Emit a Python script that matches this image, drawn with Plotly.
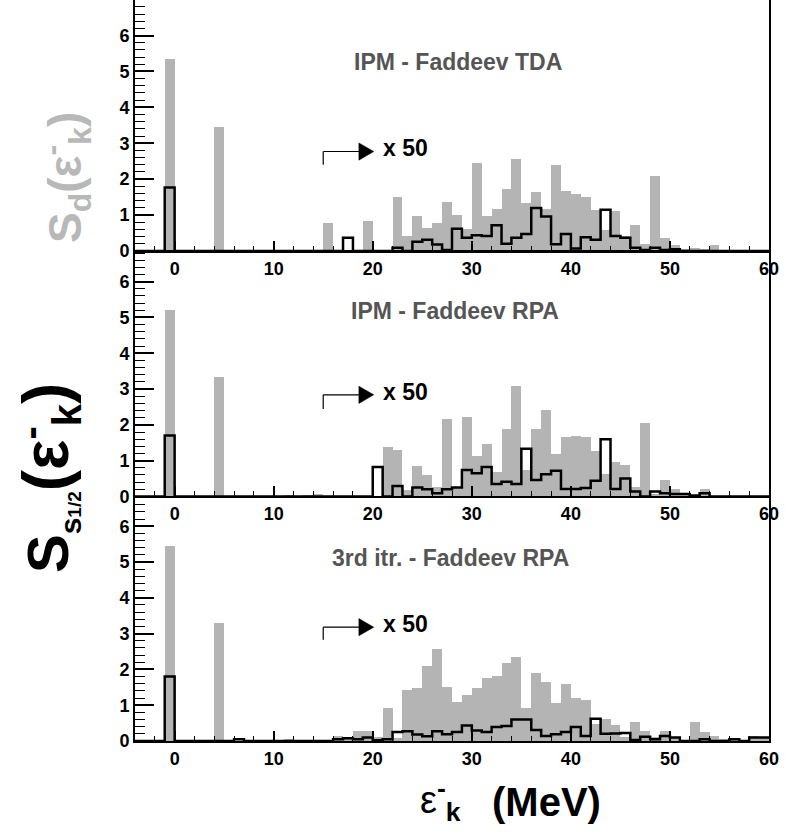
import plotly.graph_objects as go

# ---- data: 1 MeV bins, left edges -4 ... 59 ----
edges = list(range(-4, 61))

tda_sd = [0, 0, 0, 5.36, 0, 0, 0, 0, 3.46,
          0, 0, 0, 0, 0, 0, 0, 0, 0, 0,
          0.79, 0, 0, 0, 0.83,
          0, 0, 1.50, 0.42, 0.97, 0.64, 0.78, 1.36, 1.00, 0.60,
          2.45, 0.98, 1.16, 1.73, 2.56, 1.35, 1.65, 1.17, 2.40, 1.68,
          1.58, 1.50, 1.13, 0.59, 1.10, 0.42, 0.73, 0.20, 2.09, 0.37,
          0.17, 0.03, 0.07, 0.03, 0.16, 0, 0, 0, 0, 0]
tda_s12 = [0, 0, 0, 1.77, 0, 0, 0, 0, 0,
           0, 0, 0, 0, 0, 0, 0, 0, 0, 0,
           0, 0, 0.37, 0, 0,
           0, 0, 0.09, 0, 0.26, 0.31, 0.18, 0.03, 0.62, 0.37,
           0.44, 0.42, 0.72, 0.20, 0.37, 0.47, 1.20, 0.96, 0.19, 0.47,
           0.07, 0.38, 0.31, 1.15, 0.42, 0.37, 0.09, 0.03, 0.09, 0.03,
           0.05, 0, 0, 0, 0, 0, 0, 0, 0, 0]

rpa_sd = [0, 0, 0, 5.22, 0, 0, 0, 0, 3.35,
          0, 0, 0, 0, 0, 0, 0.04, 0, 0.03, 0.07,
          0, 0, 0, 0, 0,
          0, 1.39, 1.30, 0.18, 0.86, 0.59, 0.26, 2.16, 0.28, 2.23,
          1.14, 1.46, 0.69, 1.88, 3.10, 0.74, 1.90, 2.43, 1.18, 1.65,
          1.69, 1.65, 1.28, 0.62, 0.97, 0.88, 0.26, 2.04, 0.07, 0.45,
          0.20, 0.07, 0.03, 0.20, 0, 0, 0, 0, 0, 0]
rpa_s12 = [0, 0, 0, 1.70, 0, 0, 0, 0, 0,
           0, 0, 0, 0, 0, 0, 0, 0, 0, 0,
           0, 0, 0, 0, 0,
           0.82, 0, 0.29, 0, 0.25, 0.20, 0.09, 0.20, 0.25, 0.74,
           0.65, 0.82, 0.35, 0.41, 0.35, 1.33, 0.46, 0.62, 0.72, 0.21,
           0.21, 0.24, 0.44, 1.60, 0.21, 0.50, 0.14, 0, 0.14, 0.09,
           0.07, 0.07, 0.03, 0.09, 0, 0, 0, 0, 0, 0]

it3_sd = [0, 0, 0, 5.45, 0, 0, 0, 0, 3.30,
          0, 0, 0, 0, 0, 0, 0.06, 0, 0, 0,
          0, 0.15, 0.10, 0.27, 0.29,
          0.10, 0.93, 0.08, 1.43, 1.47, 2.09, 2.57, 1.50, 1.08, 1.29,
          1.47, 1.76, 1.81, 2.17, 2.36, 0.92, 1.90, 1.66, 1.07, 1.60,
          1.19, 1.16, 0.48, 0.62, 0.46, 0.10, 0.54, 0.29, 0.10, 0.29,
          0.12, 0, 0.52, 0.25, 0.13, 0.05, 0.08, 0, 0.14, 0.10]
it3_s12 = [0, 0, 0, 1.80, 0, 0, 0, 0, 0,
           0, 0.05, 0, 0, 0, 0, 0, 0, 0, 0,
           0, 0.05, 0.08, 0.05, 0.10,
           0.02, 0.05, 0.25, 0.27, 0.18, 0.13, 0.27, 0.19, 0.25, 0.43,
           0.29, 0.25, 0.39, 0.42, 0.60, 0.60, 0.31, 0.14, 0.19, 0.25,
           0.39, 0.14, 0.62, 0.20, 0.21, 0.22, 0.03, 0.12, 0.05, 0.14,
           0.10, 0, 0, 0.05, 0, 0, 0.05, 0, 0.10, 0.10]

titles = ["IPM - Faddeev TDA", "IPM - Faddeev RPA", "3rd itr. - Faddeev RPA"]
panels = [(tda_sd, tda_s12), (rpa_sd, rpa_s12), (it3_sd, it3_s12)]

GREY = "#b4b4b4"
FONT = "Liberation Sans"

# layout geometry
W, H = 786, 832
ML, MR, MT, MB = 135, 17, 0, 91
PH = H - MT - MB
domains = [[0.6613, 1.0], [0.3300, 0.6600], [0.0, 0.3280]]
yranges = [6.99, 6.83, 6.79]
title_pos = [(28.6, 5.25), (28.3, 5.18), (27.8, 5.12)]
x50_y = [2.88, 2.93, 3.27]
arrow_y = [(2.77, 2.40), (2.84, 2.44), (3.18, 2.83)]

fig = go.Figure()
centers = [e + 0.5 for e in edges[:-1]]
for i, (sd, s12) in enumerate(panels):
    xa = "x" if i == 0 else f"x{i+1}"
    ya = "y" if i == 0 else f"y{i+1}"
    fig.add_trace(go.Bar(x=centers, y=sd, width=1.0, marker=dict(color=GREY, line=dict(width=0)),
                         xaxis=xa, yaxis=ya, showlegend=False))
    fig.add_trace(go.Scatter(x=edges, y=s12 + [s12[-1]], mode="lines", line=dict(shape="hv", color="black", width=2.5),
                             xaxis=xa, yaxis=ya, showlegend=False))

axis_common_x = dict(range=[-4, 60], tick0=0, dtick=10, ticks="inside", ticklen=10, tickwidth=1.5,
                     tickcolor="black", showline=True, linewidth=2, linecolor="black", mirror=True,
                     showgrid=False, zeroline=False,
                     minor=dict(tick0=0, dtick=2, ticks="inside", ticklen=5, tickwidth=1, tickcolor="black"),
                     tickfont=dict(family=FONT, size=18, color="black", weight="bold"))
axis_common_y = dict(tick0=0, dtick=1, ticks="inside", ticklen=19, tickwidth=1.5, tickcolor="black",
                     showline=True, linewidth=2, linecolor="black", mirror=True,
                     showgrid=False, zeroline=False,
                     minor=dict(tick0=0, dtick=0.2, ticks="inside", ticklen=10, tickwidth=1, tickcolor="black"),
                     tickfont=dict(family=FONT, size=18, color="black", weight="bold"))

layout = dict(width=W, height=H, margin=dict(l=ML, r=MR, t=MT, b=MB, autoexpand=False),
              paper_bgcolor="white", plot_bgcolor="white", bargap=0, barmode="overlay")
annotations = []
shapes = []
for i in range(3):
    xk = "xaxis" if i == 0 else f"xaxis{i+1}"
    yk = "yaxis" if i == 0 else f"yaxis{i+1}"
    xa = "x" if i == 0 else f"x{i+1}"
    ya = "y" if i == 0 else f"y{i+1}"
    layout[xk] = dict(axis_common_x, anchor=ya, domain=[0, 1])
    layout[yk] = dict(axis_common_y, anchor=xa, domain=domains[i], range=[0, yranges[i]])
    tx, ty = title_pos[i]
    annotations.append(dict(x=tx, y=ty, xref=xa, yref=ya, text=titles[i], showarrow=False,
                            xanchor="center", yanchor="middle",
                            font=dict(family=FONT, size=23, color="#555555", weight="bold")))
    annotations.append(dict(x=23.3, y=x50_y[i], xref=xa, yref=ya, text="x 50", showarrow=False,
                            xanchor="center", yanchor="middle",
                            font=dict(family=FONT, size=23, color="black", weight="bold")))
    ytop, ybot = arrow_y[i]
    shapes.append(dict(type="line", xref=xa, yref=ya, x0=15, x1=15, y0=ybot, y1=ytop,
                       line=dict(color="black", width=1.2)))
    shapes.append(dict(type="line", xref=xa, yref=ya, x0=15, x1=18.8, y0=ytop, y1=ytop,
                       line=dict(color="black", width=1.2)))
    shapes.append(dict(type="path", xref=xa, yref=ya,
                       path=f"M 18.6 {ytop-0.24} L 20.1 {ytop} L 18.6 {ytop+0.24} Z",
                       fillcolor="black", line=dict(color="black", width=0.5)))

def px_to_paper_x(px):
    return (px - ML) / (W - ML - MR)

def px_to_paper_y(py):
    return (H - MB - py) / PH

annotations.append(dict(x=px_to_paper_x(65), y=px_to_paper_y(178), xref="paper", yref="paper",
                        xanchor="center", yanchor="middle",
                        text="S<sub><span style='font-size:32px'>d</span></sub>(ε<sup>-</sup><sub>k</sub>)",
                        textangle=-90, showarrow=False,
                        font=dict(family=FONT, size=46, color="#b8b8b8", weight="bold")))
annotations.append(dict(x=px_to_paper_x(48), y=px_to_paper_y(478), xref="paper", yref="paper",
                        xanchor="center", yanchor="middle",
                        text=("S<sub><span style='font-size:30px'>s</span><span style='font-size:19px'>1/2</span></sub>"
                              "<span style='font-size:64px'>(ε</span><sup><span style='font-size:40px'>-</span></sup>"
                              "<sub><span style='font-size:40px'>k</span></sub><span style='font-size:64px'>)</span>"),
                        textangle=-90, showarrow=False,
                        font=dict(family=FONT, size=58, color="black", weight="bold")))
annotations.append(dict(x=px_to_paper_x(440), y=px_to_paper_y(800), xref="paper", yref="paper",
                        xanchor="center", yanchor="middle",
                        text="ε<sup><b>-</b></sup><sub><b>k</b></sub>", showarrow=False,
                        font=dict(family=FONT, size=38, color="black")))
annotations.append(dict(x=px_to_paper_x(546), y=px_to_paper_y(802), xref="paper", yref="paper",
                        xanchor="center", yanchor="middle",
                        text="(MeV)", showarrow=False,
                        font=dict(family=FONT, size=40, color="black", weight="bold")))

layout["annotations"] = annotations
layout["shapes"] = shapes
fig.update_layout(**layout)
fig.write_html("out.html", config={"displayModeBar": False},
               post_script="document.body.style.margin='0px';")
